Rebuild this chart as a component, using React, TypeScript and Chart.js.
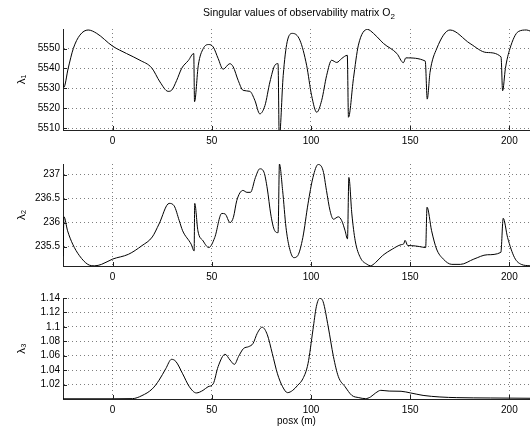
import React, { useEffect, useRef } from "react";
import { Chart, registerables } from "chart.js";

Chart.register(...registerables);

// ---------- data ----------
const xTicks = [0, 50, 100, 150, 200];
const xMin = -25;
const xMax = 210.4;

const l1X = [-25, -24.6, -22.4, -19.8, -16.5, -12.3, -8, 0, 7, 13.8, 19.7, 23.9, 28, 29.7, 32.3, 34.8, 38.2, 40.9, 41.3, 43.2, 45.7, 48.4, 50.7, 53.2, 55.7, 59.1, 60.8, 63.3, 65.8, 69.2, 71.7, 74.2, 76.8, 79.3, 81.8, 83.4, 84.0, 86, 88, 90.7, 94.4, 97.8, 100.3, 102.9, 105.4, 107.9, 110.4, 113, 115.5, 118.3, 118.9, 121.4, 123.9, 128.5, 131.5, 134.9, 136.6, 143.3, 146.6, 147.8, 157.6, 158.6, 160, 163.4, 170.1, 180.2, 188.6, 195.8, 196.6, 198, 200.3, 204.5, 208.7, 210.4];
const l1Y = [5533, 5530.5, 5540, 5550, 5556.7, 5559.3, 5557.6, 5551.2, 5547.5, 5544.1, 5540.3, 5533.2, 5528.5, 5529, 5534, 5540, 5544, 5547.5, 5523.3, 5541.6, 5550, 5552, 5550.8, 5545, 5539.6, 5542.4, 5540.8, 5534, 5529, 5528.5, 5524, 5517.2, 5521.4, 5533.2, 5541.6, 5542.4, 5505, 5536.5, 5553.4, 5557.6, 5554.2, 5541.6, 5526.5, 5518, 5524, 5536.5, 5544.1, 5543, 5545, 5546.6, 5515.5, 5534.9, 5551.7, 5559.6, 5557.6, 5554.2, 5552.5, 5547.5, 5542.9, 5545.3, 5543.7, 5524.6, 5538, 5550, 5559.3, 5552.5, 5548, 5545.8, 5528.8, 5540, 5550, 5558.5, 5559.3, 5558.8];
const l1Ticks = [5510, 5520, 5530, 5540, 5550];

const l2X = [-25, -24.5, -22.7, -20.1, -16.7, -12.5, -9, -5.6, 0, 8, 14.8, 20, 23.4, 28.5, 31, 33.6, 35.3, 39.6, 41.1, 41.4, 43, 45.6, 48.5, 51.5, 55, 56.7, 59.2, 60.9, 62.6, 65.7, 67.7, 69.5, 72, 74.2, 76.3, 78, 79.7, 81.4, 83.4, 84.1, 85.7, 87.4, 89.1, 91.3, 93.3, 95.9, 98.5, 101, 103.6, 106.1, 107.8, 109.6, 111.3, 113.8, 115.5, 117.2, 118.4, 119.1, 120.6, 122.3, 124.9, 128.3, 130, 132.6, 136, 141.1, 145.4, 146.8, 147.4, 148.8, 150.5, 154.8, 157.8, 158.5, 160.8, 163.3, 166.7, 171, 175.3, 182.1, 188.9, 195.7, 196.9, 199.1, 202.6, 206, 210.4];
const l2Y = [235.3, 236.12, 235.83, 235.55, 235.31, 235.13, 235.1, 235.13, 235.24, 235.34, 235.52, 235.7, 235.97, 236.4, 236.35, 236.04, 235.83, 235.55, 235.41, 236.4, 235.83, 235.62, 235.48, 235.69, 236.19, 236.18, 236.0, 236.11, 236.46, 236.67, 236.63, 236.63, 236.94, 237.12, 237.05, 236.7, 236.18, 235.86, 235.79, 237.22, 236.67, 235.9, 235.48, 235.27, 235.31, 235.69, 236.39, 236.94, 237.21, 237.08, 236.67, 236.25, 236.07, 236.12, 236.04, 235.83, 235.66, 236.94, 236.18, 235.62, 235.27, 235.13, 235.1, 235.17, 235.31, 235.45, 235.54, 235.56, 235.63, 235.52, 235.52, 235.5, 235.48, 236.32, 235.83, 235.45, 235.24, 235.13, 235.13, 235.24, 235.33, 235.38, 236.09, 235.69, 235.27, 235.13, 235.1];
const l2Ticks = [235.5, 236, 236.5, 237];

const l3X = [-25, 0, 10, 14.8, 20, 23.4, 26.8, 29.7, 31.9, 35.3, 38.7, 42.2, 45.6, 48.1, 50.7, 53.2, 56.7, 59.2, 61.4, 63.5, 66, 68.6, 70.8, 72.9, 75.4, 78, 80.5, 83.1, 85.7, 88.2, 90.8, 93.3, 95.9, 98.5, 101, 102.7, 104.4, 106.1, 108.7, 111.3, 113.8, 117.2, 120.6, 124.1, 127.5, 130, 132.6, 135.2, 139.4, 145.4, 150.2, 156.5, 165, 173.5, 190.6, 210.4];
const l3Y = [1.0003, 1.0003, 1.0005, 1.0047, 1.014, 1.026, 1.042, 1.055, 1.052, 1.035, 1.017, 1.0084, 1.012, 1.017, 1.021, 1.045, 1.062, 1.054, 1.048, 1.059, 1.07, 1.0726, 1.077, 1.091, 1.0995, 1.089, 1.063, 1.035, 1.017, 1.0088, 1.012, 1.019, 1.028, 1.049, 1.096, 1.128, 1.1395, 1.135, 1.1, 1.059, 1.031, 1.017, 1.005, 1.0019, 1.0005, 1.0028, 1.0084, 1.012, 1.011, 1.0107, 1.0084, 1.005, 1.0028, 1.0019, 1.0014, 1.001];
const l3Ticks = [1.02, 1.04, 1.06, 1.08, 1.1, 1.12, 1.14];

const titleText = "Singular values of observability matrix O";
const titleSub = "2";
const xLabel = "posx (m)";

// ---------- layout ----------
const W = 530;
const H = 429;
const FONT = '"Liberation Sans", Arial, Helvetica, sans-serif';

const inwardTicks = {
  id: "inwardTicks",
  afterDraw(chart: any) {
    const { ctx, chartArea: a, scales } = chart;
    const x = scales.x;
    const y = scales.y;
    ctx.save();
    ctx.strokeStyle = "#222";
    ctx.lineWidth = 1;
    ctx.beginPath();
    x.ticks.forEach((t: any) => {
      const px = Math.round(x.getPixelForValue(t.value)) + 0.5;
      ctx.moveTo(px, a.bottom);
      ctx.lineTo(px, a.bottom - 4);
    });
    y.ticks.forEach((t: any) => {
      const py = Math.round(y.getPixelForValue(t.value)) + 0.5;
      ctx.moveTo(a.left, py);
      ctx.lineTo(a.left + 4, py);
    });
    ctx.stroke();
    ctx.restore();
  },
};

type PanelDef = {
  xs: number[];
  ys: number[];
  yTicks: number[];
  yMin: number;
  yMax: number;
  yTitle: string;
  top: number;
  bottom: number;
  xh: number;
  xTitle?: string;
};

function makeConfig(p: PanelDef): any {
  const pts = p.xs.map((x, i) => ({ x, y: p.ys[i] }));
  return {
    type: "line",
    data: {
      datasets: [
        {
          data: pts,
          borderColor: "#000",
          borderWidth: 1,
          pointRadius: 0,
          fill: false,
          cubicInterpolationMode: "monotone",
        },
      ],
    },
    options: {
      animation: false,
      responsive: false,
      maintainAspectRatio: false,
      devicePixelRatio: 1,
      events: [],
      layout: { padding: { top: p.top, bottom: H - p.bottom - p.xh, left: 0, right: 0 } },
      plugins: { legend: { display: false }, tooltip: { enabled: false }, title: { display: false } },
      scales: {
        x: {
          type: "linear",
          min: xMin,
          max: xMax,
          afterBuildTicks: (s: any) => {
            s.ticks = xTicks.map((v) => ({ value: v }));
          },
          afterFit: (s: any) => {
            s.height = p.xh;
          },
          grid: { color: "rgba(0,0,0,0.5)", lineWidth: 1, drawTicks: false },
          border: { display: true, color: "#222", width: 1, dash: [1, 3] },
          ticks: {
            padding: 5,
            autoSkip: false,
            maxRotation: 0,
            color: "#000",
            font: { family: FONT, size: 10 },
            callback: (v: any) => String(v),
          },
          title: p.xTitle
            ? { display: true, text: p.xTitle, color: "#000", font: { family: FONT, size: 10 }, padding: { top: 0, bottom: 2 } }
            : { display: false },
        },
        y: {
          type: "linear",
          min: p.yMin,
          max: p.yMax,
          afterBuildTicks: (s: any) => {
            s.ticks = p.yTicks.map((v) => ({ value: v }));
          },
          afterFit: (s: any) => {
            s.width = 63;
          },
          grid: { color: "rgba(0,0,0,0.5)", lineWidth: 1, drawTicks: false },
          border: { display: true, color: "#222", width: 1, dash: [1, 3] },
          ticks: {
            padding: 3,
            autoSkip: false,
            color: "#000",
            font: { family: FONT, size: 10 },
            callback: (v: any) => String(v),
          },
          title: { display: true, text: p.yTitle, color: "#000", font: { family: FONT, size: 11.5 }, padding: { top: 15, bottom: 0 } },
        },
      },
    },
    plugins: [inwardTicks],
  };
}

const panels: PanelDef[] = [
  { xs: l1X, ys: l1Y, yTicks: l1Ticks, yMin: 5509.1, yMax: 5559.8, yTitle: "λ₁", top: 29, bottom: 130, xh: 20 },
  { xs: l2X, ys: l2Y, yTicks: l2Ticks, yMin: 235.096, yMax: 237.22, yTitle: "λ₂", top: 164, bottom: 266, xh: 20 },
  { xs: l3X, ys: l3Y, yTicks: l3Ticks, yMin: 1.0, yMax: 1.14, yTitle: "λ₃", top: 298, bottom: 399, xh: 30, xTitle: xLabel },
];

function Panel({ def }: { def: PanelDef }) {
  const ref = useRef<HTMLCanvasElement | null>(null);
  useEffect(() => {
    if (!ref.current) return;
    const chart = new Chart(ref.current, makeConfig(def));
    return () => chart.destroy();
  }, [def]);
  return (
    <canvas
      ref={ref}
      width={W}
      height={H}
      style={{ position: "absolute", left: 0, top: 0, width: W, height: H }}
    />
  );
}

export default function App() {
  return (
    <div
      style={{
        position: "fixed",
        left: 0,
        top: 0,
        width: W,
        height: H,
        background: "#fff",
        overflow: "hidden",
      }}
    >
      {panels.map((p, i) => (
        <Panel key={i} def={p} />
      ))}
      <div
        style={{
          position: "absolute",
          left: 100,
          width: 398,
          top: 6,
          textAlign: "center",
          fontFamily: FONT,
          fontSize: 10.5,
          lineHeight: "12px",
          color: "#000",
          whiteSpace: "nowrap",
        }}
      >
        {titleText}
        <sub style={{ fontSize: 8, verticalAlign: "-3px", lineHeight: 0 }}>{titleSub}</sub>
      </div>
    </div>
  );
}
